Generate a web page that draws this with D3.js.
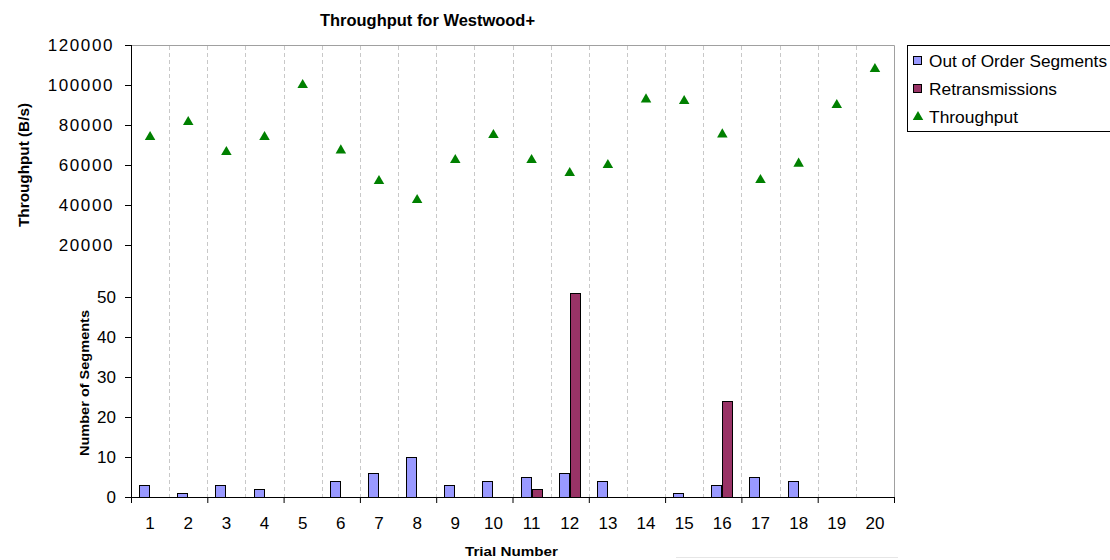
<!DOCTYPE html>
<html>
<head>
<meta charset="utf-8">
<script src="https://cdn.jsdelivr.net/npm/d3@7"></script>
<style>
  body { margin: 0; background: #fff; }
  text { font-family: "Liberation Sans", Arial, sans-serif; fill: #000; }
</style>
</head>
<body>
<script>
// data
var trials = ["1","2","3","4","5","6","7","8","9","10","11","12","13","14","15","16","17","18","19","20"];
var throughput = [74000, 81500, 66500, 74000, 100000, 67300, 52000, 42500, 62500, 75000,
                  62500, 56000, 60000, 92800, 92000, 75300, 52500, 60700, 90000, 108000];
var outOfOrder = [3, 1, 3, 2, 0, 4, 6, 10, 3, 4, 5, 6, 4, 0, 1, 3, 5, 4, 0, 0];
var retrans = [0, 0, 0, 0, 0, 0, 0, 0, 0, 0, 2, 51, 0, 0, 0, 24, 0, 0, 0, 0];
var thrTicks = [20000, 40000, 60000, 80000, 100000, 120000];
var segTicks = [0, 10, 20, 30, 40, 50];
var xTickMarks = [0, 2, 4, 6, 8, 10, 12, 14, 16, 18, 20];
var seriesNames = ["Out of Order Segments", "Retransmissions", "Throughput"];

var svgWidth = 1110;
var svgHeight = 560;

var margin = { top: 45, right: 216, bottom: 63, left: 131 };
var chartWidth = svgWidth - margin.left - margin.right;   // 763
var chartHeight = svgHeight - margin.top - margin.bottom; // 452

var svg = d3.select("body")
  .append("svg")
  .attr("width", svgWidth)
  .attr("height", svgHeight);

svg.append("rect")
  .attr("width", svgWidth)
  .attr("height", svgHeight)
  .attr("fill", "#fff");

var chartGroup = svg.append("g")
  .attr("transform", `translate(${margin.left}, ${margin.top})`);

// scales
var x = d3.scaleBand().domain(trials).range([0, chartWidth]);
var xLin = d3.scaleLinear().domain([0, 20]).range([0, chartWidth]);
var xInner = d3.scaleBand().domain(["ooo", "ret"])
  .range([x.bandwidth() / 2 - 11, x.bandwidth() / 2 + 11]);

// throughput sits in the upper part, segment counts in the lower part
var yThr = d3.scaleLinear().domain([0, 120000]).range([240, 0]);
var ySeg = d3.scaleLinear().domain([0, 50]).range([chartHeight, 252]);

// dashed vertical grid on category boundaries
chartGroup.append("g")
  .selectAll("line")
  .data(d3.range(1, 20))
  .enter()
  .append("line")
  .attr("x1", d => Math.round(xLin(d)) + 0.5)
  .attr("x2", d => Math.round(xLin(d)) + 0.5)
  .attr("y1", 1)
  .attr("y2", chartHeight)
  .attr("stroke", "#c8c8c8")
  .attr("stroke-dasharray", "4,3");

// plot area border (top and right)
chartGroup.append("path")
  .attr("d", `M0,0.5H${chartWidth + 0.5}V${chartHeight}`)
  .attr("fill", "none")
  .attr("stroke", "#a0a0a0");

// bars
var barData = [];
trials.forEach(function(t, i) {
  barData.push({ trial: t, key: "ooo", value: outOfOrder[i] });
  barData.push({ trial: t, key: "ret", value: retrans[i] });
});

chartGroup.append("g")
  .selectAll("rect")
  .data(barData.filter(d => d.value > 0))
  .enter()
  .append("rect")
  .attr("x", d => Math.round(x(d.trial) + xInner(d.key)) + 0.5)
  .attr("y", d => Math.round(ySeg(d.value)) + 0.5)
  .attr("width", xInner.bandwidth() - 1)
  .attr("height", d => chartHeight - Math.round(ySeg(d.value)))
  .attr("fill", d => d.key === "ooo" ? "#9999ff" : "#993366")
  .attr("stroke", "#000")
  .attr("stroke-width", 1);

// throughput markers
var tri = d3.symbol().type(d3.symbolTriangle).size(48);
chartGroup.append("g")
  .selectAll("path")
  .data(throughput)
  .enter()
  .append("path")
  .attr("transform", (d, i) => `translate(${x(trials[i]) + x.bandwidth() / 2}, ${yThr(d)})`)
  .attr("d", tri)
  .attr("fill", "#008000");

// y axes
var thrAxis = chartGroup.append("g")
  .call(d3.axisLeft(yThr).tickValues(thrTicks).tickFormat(d3.format("d")).tickSize(6).tickPadding(11));
thrAxis.select(".domain").remove();
thrAxis.selectAll("text")
  .attr("font-size", 17)
  .attr("letter-spacing", "1.6px")
  .attr("font-family", "Liberation Sans, Arial, sans-serif");

var segAxis = chartGroup.append("g")
  .call(d3.axisLeft(ySeg).tickValues(segTicks).tickSize(6).tickPadding(9));
segAxis.select(".domain").remove();
segAxis.selectAll("text")
  .attr("font-size", 17)
  .attr("font-family", "Liberation Sans, Arial, sans-serif");

chartGroup.selectAll(".tick line").attr("stroke", "#000");

// single left axis line
chartGroup.append("line")
  .attr("x1", 0.5).attr("x2", 0.5)
  .attr("y1", 0).attr("y2", chartHeight + 0.5)
  .attr("stroke", "#000");

// x axis: tick marks every 2 trials, labels on every trial
var xAxis = chartGroup.append("g")
  .attr("transform", `translate(0, ${chartHeight})`)
  .call(d3.axisBottom(xLin).tickValues(xTickMarks).tickFormat("").tickSize(6).tickSizeOuter(0));
xAxis.selectAll("line, path").attr("stroke", "#000");

var xLabels = chartGroup.append("g")
  .attr("transform", `translate(0, ${chartHeight})`)
  .call(d3.axisBottom(x).tickSize(0).tickPadding(20));
xLabels.select(".domain").remove();
xLabels.selectAll("text")
  .attr("font-size", 17)
  .attr("font-family", "Liberation Sans, Arial, sans-serif");

// titles
svg.append("text")
  .attr("x", 320)
  .attr("y", 26)
  .attr("font-size", 16)
  .attr("font-weight", "bold")
  .attr("textLength", 215)
  .attr("lengthAdjust", "spacingAndGlyphs")
  .text("Throughput for Westwood+");

svg.append("text")
  .attr("x", 465)
  .attr("y", 556)
  .attr("font-size", 13)
  .attr("font-weight", "bold")
  .attr("textLength", 93)
  .attr("lengthAdjust", "spacingAndGlyphs")
  .text("Trial Number");

svg.append("text")
  .attr("transform", "translate(29, 165) rotate(-90)")
  .attr("text-anchor", "middle")
  .attr("font-size", 14)
  .attr("font-weight", "bold")
  .attr("textLength", 124)
  .attr("lengthAdjust", "spacingAndGlyphs")
  .text("Throughput (B/s)");

svg.append("text")
  .attr("transform", "translate(89, 383) rotate(-90)")
  .attr("text-anchor", "middle")
  .attr("font-size", 13.5)
  .attr("font-weight", "bold")
  .attr("textLength", 146)
  .attr("lengthAdjust", "spacingAndGlyphs")
  .text("Number of Segments");

// legend (runs off the right edge like the original)
var legend = svg.append("g").attr("transform", "translate(907, 45)");
legend.append("rect")
  .attr("x", 0.5).attr("y", 0.5)
  .attr("width", 260).attr("height", 86)
  .attr("fill", "#fff")
  .attr("stroke", "#000");

var legendWidths = [178, 128, 89];
var legendColors = ["#9999ff", "#993366", "#008000"];
seriesNames.forEach(function(name, i) {
  var cy = 16 + i * 28;
  if (i < 2) {
    legend.append("rect")
      .attr("x", 6.5).attr("y", cy - 4.5)
      .attr("width", 8).attr("height", 8)
      .attr("fill", legendColors[i])
      .attr("stroke", "#000");
  } else {
    legend.append("path")
      .attr("transform", `translate(11, ${cy})`)
      .attr("d", tri)
      .attr("fill", legendColors[i]);
  }
  legend.append("text")
    .attr("x", 22)
    .attr("y", cy + 6)
    .attr("font-size", 17)
    .attr("textLength", legendWidths[i])
    .attr("lengthAdjust", "spacingAndGlyphs")
    .text(name);
});

// faint leftover line at the bottom edge
svg.append("line")
  .attr("x1", 676).attr("x2", 898)
  .attr("y1", 557.5).attr("y2", 557.5)
  .attr("stroke", "#e6e6e6");
</script>
</body>
</html>
